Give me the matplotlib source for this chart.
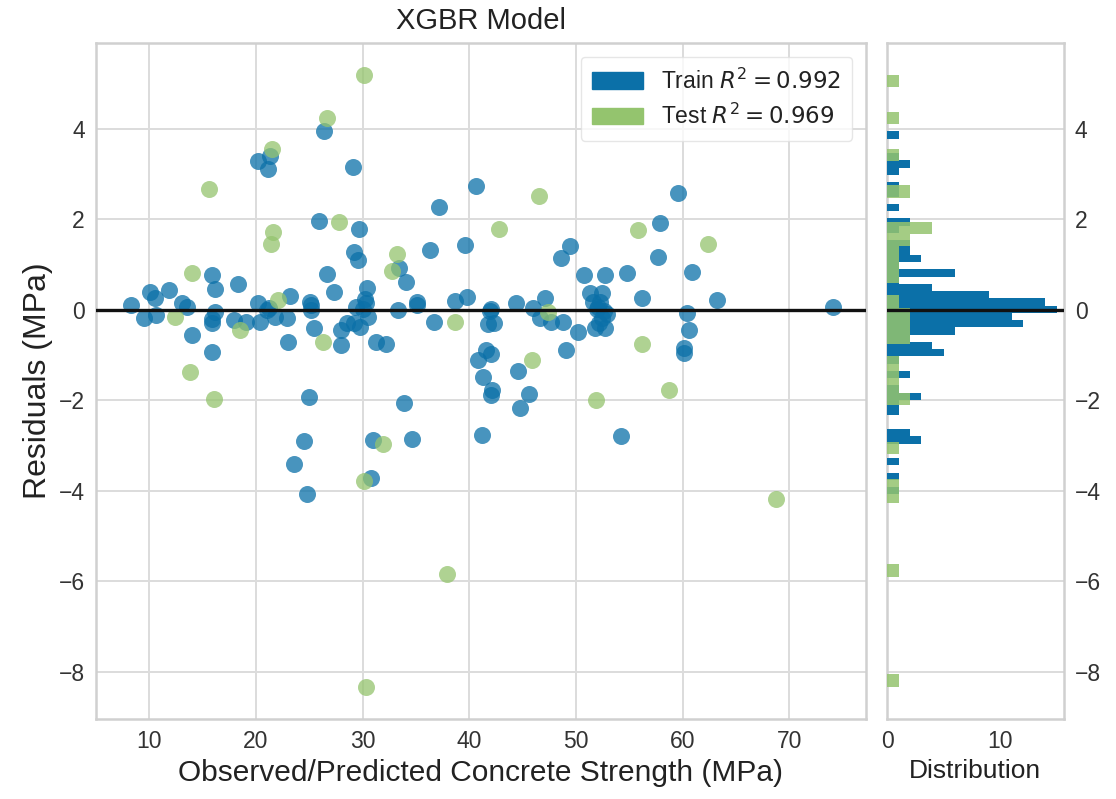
import numpy as np
import matplotlib
matplotlib.use('Agg')
import matplotlib.pyplot as plt
from matplotlib.patches import Patch

plt.rcParams['font.family'] = ['Liberation Sans', 'DejaVu Sans']

# residual points: (predicted strength, residual)
train_x = [26.4, 21.3, 20.2, 21.1, 29.1, 40.6, 37.2, 59.6, 25.9, 29.7,
           57.9, 36.3, 39.6, 29.2, 29.6, 33.4, 34.1, 49.4, 48.6, 57.7,
           15.9, 16.2, 18.3, 26.7, 27.3, 30.4, 30.2, 10.1, 11.8, 10.5,
           8.3, 13.1, 13.5, 23.2, 25.1, 25.2, 20.2, 21.2, 33.3, 35.1,
           35.1, 38.7, 39.8, 29.4, 16.2, 50.8, 52.7, 54.8, 60.9, 44.4,
           47.1, 46.0, 41.9, 51.3, 52.4, 51.6, 52.1, 56.2, 63.2, 74.1,
           9.5, 10.6, 14.0, 15.9, 15.9, 17.9, 19.1, 20.4, 21.8, 22.9,
           23.0, 15.9, 25.4, 28.0, 28.5, 28.0, 29.8, 30.5, 31.3, 32.2,
           36.7, 42.3, 41.6, 42.0, 40.8, 41.3, 42.1, 42.0, 41.2, 44.6,
           45.6, 44.8, 49.1, 50.2, 46.6, 47.7, 48.8, 52.9, 52.4, 51.8,
           52.7, 54.2, 60.4, 60.6, 60.1, 60.1, 25.0, 33.9, 24.5, 31.0,
           34.6, 23.6, 30.8, 24.8, 25.2,
           52.0, 52.6, 30.0, 42.0, 21.0, 52.3, 30.3, 52.2, 41.8, 29.2]
train_y = [3.95, 3.41, 3.29, 3.11, 3.16, 2.74, 2.28, 2.59, 1.96, 1.79,
           1.93, 1.32, 1.43, 1.28, 1.10, 0.93, 0.61, 1.41, 1.14, 1.18,
           0.77, 0.46, 0.57, 0.79, 0.40, 0.49, 0.24, 0.39, 0.44, 0.26,
           0.10, 0.15, 0.07, 0.31, 0.18, 0.11, 0.15, 0.04, 0.00, 0.18,
           0.11, 0.19, 0.29, 0.07, -0.04, 0.77, 0.77, 0.81, 0.83, 0.16,
           0.26, 0.05, -0.03, 0.38, 0.37, 0.18, 0.07, 0.26, 0.22, 0.07,
           -0.18, -0.11, -0.55, -0.21, -0.29, -0.22, -0.26, -0.26, -0.15, -0.18,
           -0.70, -0.92, -0.40, -0.44, -0.29, -0.77, -0.37, -0.15, -0.72, -0.75,
           -0.26, -0.29, -0.88, -0.98, -1.10, -1.48, -1.78, -1.89, -2.76, -1.36,
           -1.85, -2.17, -0.88, -0.48, -0.18, -0.26, -0.26, -0.08, -0.18, -0.40,
           -0.40, -2.78, -0.07, -0.45, -0.85, -0.95, -1.93, -2.06, -2.91, -2.87,
           -2.85, -3.40, -3.72, -4.08, 0.00,
           0.02, -0.02, 0.03, 0.03, -0.01, 0.17, 0.15, -0.30, -0.32, -0.30]

test_x = [30.1, 26.7, 21.5, 15.6, 46.5, 27.8, 21.6, 21.4, 42.8, 55.8,
          62.4, 33.2, 32.8, 14.0, 22.1, 12.4, 18.5, 26.3, 38.7, 47.4,
          13.8, 16.1, 45.9, 56.2, 58.7, 51.9, 31.9, 30.1, 68.8, 37.9, 30.3]
test_y = [5.19, 4.24, 3.55, 2.68, 2.52, 1.94, 1.73, 1.46, 1.80, 1.77,
          1.45, 1.23, 0.87, 0.81, 0.21, -0.15, -0.45, -0.70, -0.26, -0.04,
          -1.38, -1.96, -1.10, -0.75, -1.78, -2.00, -2.97, -3.79, -4.18, -5.83, -8.33]

train_r2 = 0.992
test_r2 = 0.969

train_color = '#0b70a8'
test_color = '#94c46e'
grid_color = '#dcdcdc'

fig = plt.figure(figsize=(11.16, 7.99), dpi=100)
ax = fig.add_axes([0.086, 0.100, 0.690, 0.846])
hax = fig.add_axes([0.795, 0.100, 0.158, 0.846], sharey=ax)

ax.scatter(train_x, train_y, s=150, c=train_color, alpha=0.75, linewidths=0, zorder=3)
ax.scatter(test_x, test_y, s=150, c=test_color, alpha=0.75, linewidths=0, zorder=3)
ax.axhline(0, color='#111111', lw=2.4, zorder=4)

hax.hist(train_y, bins=50, orientation='horizontal', color=train_color, zorder=3)
hax.hist(test_y, bins=50, orientation='horizontal', color=test_color, alpha=0.85, zorder=3)
hax.axhline(0, color='#111111', lw=2.4, zorder=4)

for a in (ax, hax):
    a.set_facecolor('white')
    a.grid(True, color=grid_color, lw=1.4, zorder=0)
    for s in a.spines.values():
        s.set_color('#d0d0d0')
        s.set_linewidth(1.8)
    a.tick_params(length=0, labelsize=16.5, labelcolor='#333333', pad=8)
    a.set_axisbelow(True)

ax.set_xlim(5.0, 77.2)
ax.set_ylim(-9.05, 5.9)
ax.set_xticks([10, 20, 30, 40, 50, 60, 70])
ax.set_yticks([-8, -6, -4, -2, 0, 2, 4])
ax.set_title('XGBR Model', fontsize=21, color='#222222', pad=10)
ax.set_xlabel('Observed/Predicted Concrete Strength (MPa)', fontsize=21.5, color='#222222')
ax.set_ylabel('Residuals (MPa)', fontsize=23, color='#222222')

hax.set_xlim(0, 15.6)
hax.set_xticks([0, 10])
hax.yaxis.tick_right()
hax.tick_params(axis='y', labelleft=False, labelright=True)
hax.grid(False, axis='x')
hax.set_xlabel('Distribution', fontsize=19, color='#222222')

handles = [Patch(color=train_color, label=r'Train $R^2 = {:.3f}$'.format(train_r2)),
           Patch(color=test_color, label=r'Test $R^2 = {:.3f}$'.format(test_r2))]
leg = ax.legend(handles=handles, loc='upper right', fontsize=16.5, frameon=True,
                handlelength=2.2, handleheight=0.75, borderpad=0.5, labelspacing=0.45,
                handletextpad=0.8, borderaxespad=0.6)
leg.get_frame().set_edgecolor('#e0e0e0')
for t in leg.get_texts():
    t.set_color('#222222')

fig.savefig('out.png', dpi=100)
